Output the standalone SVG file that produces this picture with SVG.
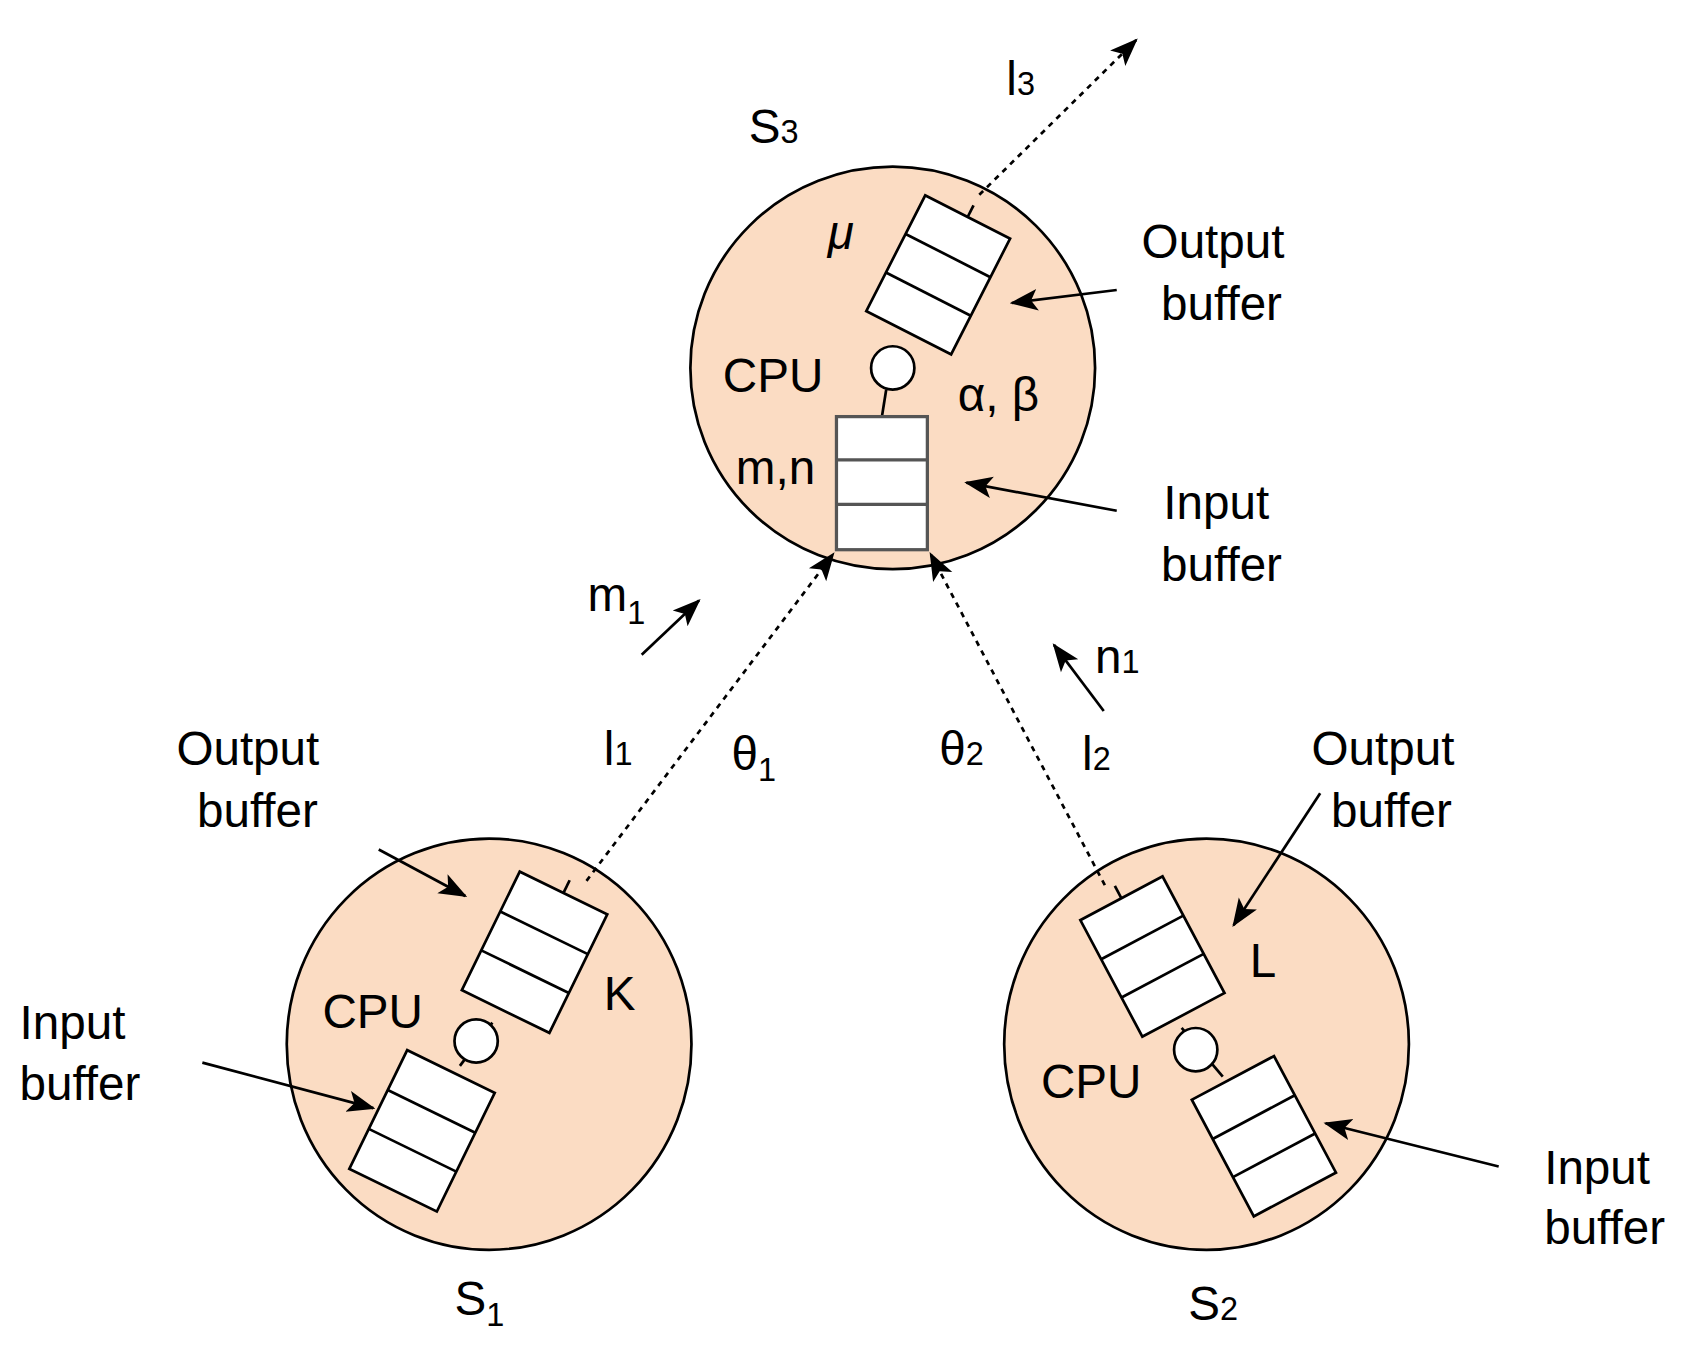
<svg xmlns="http://www.w3.org/2000/svg" width="1688" height="1346" viewBox="0 0 1688 1346">
<style>
.node{fill:#fbdcc3;stroke:#000;stroke-width:2.5}
.buf{fill:#fff;stroke:#000;stroke-width:2.5}
.bufg{fill:#fff;stroke:#555;stroke-width:3}
.ln{stroke:#000;stroke-width:2.5;fill:none}
.dot{stroke:#000;stroke-width:2.5;stroke-dasharray:5 5;fill:none}
.cpu{fill:#fff;stroke:#000;stroke-width:2.5}
text{font-family:"Liberation Sans",Arial,sans-serif;font-size:44px;fill:#000}
.sub{font-size:30px}
</style>
<defs>
<marker id="ah" viewBox="0 0 10 10" refX="9" refY="5" markerWidth="8" markerHeight="8" markerUnits="userSpaceOnUse" orient="auto" style="overflow:visible">
<path d="M0,0 L10,5 L0,10 z" transform="scale(2.6)" fill="#000"/>
</marker>
<marker id="a2" viewBox="0 0 26 26" refX="24" refY="13" markerWidth="26" markerHeight="26" markerUnits="userSpaceOnUse" orient="auto">
<path d="M0,3 L26,13 L0,23 L6,13 z" fill="#000"/>
</marker>
</defs>
<rect width="1688" height="1346" fill="#fff"/>
<g transform="scale(1.0821)">
<g id="S3">
<ellipse class="node" cx="825" cy="340" rx="187" ry="186"/>
<g transform="translate(867,254) rotate(27)">
<rect class="buf" x="-44" y="-60" width="88" height="120"/>
<line class="ln" x1="-44" y1="-20" x2="44" y2="-20"/><line class="ln" x1="-44" y1="20" x2="44" y2="20"/>
<line class="ln" x1="0" y1="-60" x2="0" y2="-72"/>
</g>
<line class="ln" x1="819" y1="360" x2="815" y2="385"/>
<circle class="cpu" cx="825" cy="340" r="20"/>
<rect class="bufg" x="773" y="385" width="84" height="123"/>
<line class="bufg" x1="773" y1="425" x2="857" y2="425"/><line class="bufg" x1="773" y1="466" x2="857" y2="466"/>
<text x="668" y="362">CPU</text>
<text x="885" y="380">α, β</text>
<text x="680" y="447">m,n</text>
<text x="765" y="230" font-style="italic">μ</text>
<text x="692" y="132">S<tspan class="sub" dy="0">3</tspan></text>
</g>
<g id="S1">
<ellipse class="node" cx="452" cy="965" rx="187" ry="190"/>
<g transform="translate(494,880) rotate(26)">
<rect class="buf" x="-45" y="-61" width="90" height="122"/>
<line class="ln" x1="-45" y1="-20" x2="45" y2="-20"/><line class="ln" x1="-45" y1="20" x2="45" y2="20"/>
<line class="ln" x1="0" y1="-61" x2="0" y2="-74"/>
</g>
<g transform="translate(390,1045) rotate(26)">
<rect class="buf" x="-45" y="-61" width="90" height="122"/>
<line class="ln" x1="-45" y1="-20" x2="45" y2="-20"/><line class="ln" x1="-45" y1="20" x2="45" y2="20"/>
</g>
<line class="ln" x1="425" y1="985" x2="455" y2="945"/>
<circle class="cpu" cx="440" cy="962" r="20"/>
<text x="298" y="950">CPU</text>
<text x="558" y="933">K</text>
<text x="420" y="1215">S<tspan class="sub" dy="10">1</tspan></text>
</g>
<g id="S2">
<ellipse class="node" cx="1115" cy="965" rx="187" ry="190"/>
<g transform="translate(1065,884) rotate(-28)">
<rect class="buf" x="-43" y="-61" width="86" height="122"/>
<line class="ln" x1="-43" y1="-20" x2="43" y2="-20"/><line class="ln" x1="-43" y1="20" x2="43" y2="20"/>
<line class="ln" x1="0" y1="-61" x2="0" y2="-74"/>
</g>
<g transform="translate(1168,1050) rotate(-28)">
<rect class="buf" x="-43" y="-61" width="86" height="122"/>
<line class="ln" x1="-43" y1="-20" x2="43" y2="-20"/><line class="ln" x1="-43" y1="20" x2="43" y2="20"/>
</g>
<line class="ln" x1="1092" y1="950" x2="1130" y2="995"/>
<circle class="cpu" cx="1105" cy="970" r="20"/>
<text x="962" y="1015">CPU</text>
<text x="1155" y="903">L</text>
<text x="1098" y="1220">S<tspan class="sub">2</tspan></text>
</g>
<g id="connectors">
<line class="dot" x1="905" y1="180" x2="1050" y2="37" marker-end="url(#a2)"/>
<line class="dot" x1="542" y1="814" x2="770" y2="512" marker-end="url(#a2)"/>
<line class="dot" x1="1021" y1="818" x2="860" y2="512" marker-end="url(#a2)"/>
<line class="ln" x1="1032" y1="268" x2="935" y2="280" marker-end="url(#a2)"/>
<line class="ln" x1="1032" y1="472" x2="893" y2="446" marker-end="url(#a2)"/>
<line class="ln" x1="593" y1="605" x2="646" y2="555" marker-end="url(#a2)"/>
<line class="ln" x1="1020" y1="657" x2="974" y2="596" marker-end="url(#a2)"/>
<line class="ln" x1="350" y1="785" x2="430" y2="828" marker-end="url(#a2)"/>
<line class="ln" x1="187" y1="982" x2="345" y2="1024" marker-end="url(#a2)"/>
<line class="ln" x1="1220" y1="733" x2="1140" y2="855" marker-end="url(#a2)"/>
<line class="ln" x1="1385" y1="1078" x2="1225" y2="1038" marker-end="url(#a2)"/>
</g>
<g id="labels">
<text x="930" y="88">l<tspan class="sub">3</tspan></text>
<text x="1055" y="238">Output</text><text x="1073" y="296">buffer</text>
<text x="1075" y="480">Input</text><text x="1073" y="537">buffer</text>
<text x="543" y="565">m<tspan class="sub" dy="12">1</tspan></text>
<text x="1012" y="622">n<tspan class="sub">1</tspan></text>
<text x="558" y="707">l<tspan class="sub">1</tspan></text>
<text x="676" y="712">θ<tspan class="sub" dy="10">1</tspan></text>
<text x="868" y="707">θ<tspan class="sub">2</tspan></text>
<text x="1000" y="712">l<tspan class="sub">2</tspan></text>
<text x="163" y="707">Output</text><text x="182" y="764">buffer</text>
<text x="18" y="960">Input</text><text x="18" y="1017">buffer</text>
<text x="1212" y="707">Output</text><text x="1230" y="764">buffer</text>
<text x="1427" y="1094">Input</text><text x="1427" y="1150">buffer</text>
</g>
</g>
</svg>
